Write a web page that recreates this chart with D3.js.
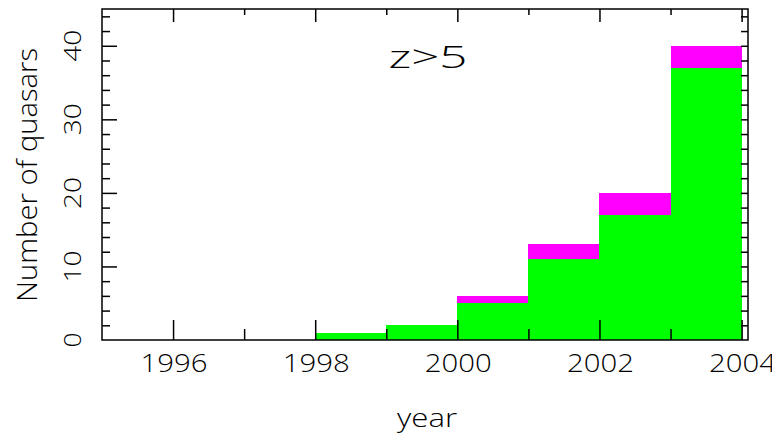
<!DOCTYPE html>
<html>
<head>
<meta charset="utf-8">
<script src="https://cdn.jsdelivr.net/npm/d3@7/dist/d3.min.js"></script>
<style>
  html, body { margin: 0; padding: 0; background: #fff; }
  svg { display: block; }
  text { font-family: "Open Sans", "Liberation Sans", Arial, sans-serif; font-weight: 300; fill: #000; }
</style>
</head>
<body>
<svg id="chart" width="772" height="434"></svg>
<script>
// Discovery year bins (start of each one-year bin)
const binStart = [1998, 1999, 2000, 2001, 2002, 2003];
// Quasars per year: lower (green) part and upper (magenta) part of each stack
const greenCounts = [1, 2, 5, 11, 17, 37];
const magentaCounts = [0, 0, 1, 2, 3, 3];

// Axis ticks
const xMajorTicks = [1996, 1998, 2000, 2002, 2004];
const xMinorTicks = [1997, 1999, 2001, 2003];
const yMajorTicks = [0, 10, 20, 30, 40];
const yMinorTicks = [2, 4, 6, 8, 12, 14, 16, 18, 22, 24, 26, 28, 32, 34, 36, 38, 42, 44];

const svg = d3.select("#chart");

const x = d3.scaleLinear().domain([1995, 2004.09]).range([102, 748]);
const y = d3.scaleLinear().domain([0, 45]).range([340, 9]);

// Stacked histogram bars
const bars = svg.append("g").attr("shape-rendering", "crispEdges");
bars.selectAll("rect.lower")
  .data(binStart)
  .join("rect")
  .attr("class", "lower")
  .attr("x", (d) => x(d))
  .attr("width", (d) => x(d + 1) - x(d) + 0.5)
  .attr("y", (d, i) => y(greenCounts[i]))
  .attr("height", (d, i) => y(0) - y(greenCounts[i]))
  .attr("fill", "#00ff00");

bars.selectAll("rect.upper")
  .data(binStart)
  .join("rect")
  .attr("class", "upper")
  .attr("x", (d) => x(d))
  .attr("width", (d) => x(d + 1) - x(d))
  .attr("y", (d, i) => y(greenCounts[i] + magentaCounts[i]))
  .attr("height", (d, i) => y(greenCounts[i]) - y(greenCounts[i] + magentaCounts[i]))
  .attr("fill", "#ff00ff");

// Tick marks, all pointing into the frame
function ticks(axis, transform) {
  const g = svg.append("g").attr("transform", transform).call(axis);
  g.select(".domain").remove();
  g.selectAll(".tick line").attr("stroke", "#000").attr("stroke-width", 1.5);
  g.selectAll(".tick text").remove();
  return g;
}
const y0 = y(0), yTop = y(45), xL = x.range()[0], xR = x.range()[1];

ticks(d3.axisBottom(x).tickValues(xMajorTicks).tickSize(-20), `translate(0,${y0})`);
ticks(d3.axisBottom(x).tickValues(xMinorTicks).tickSize(-11), `translate(0,${y0})`);
ticks(d3.axisTop(x).tickValues(xMajorTicks).tickSize(-13), `translate(0,${yTop})`);
ticks(d3.axisTop(x).tickValues(xMinorTicks).tickSize(-6), `translate(0,${yTop})`);
ticks(d3.axisLeft(y).tickValues(yMajorTicks.filter(v => v > 0)).tickSize(-15), `translate(${xL},0)`);
ticks(d3.axisLeft(y).tickValues(yMinorTicks).tickSize(-8), `translate(${xL},0)`);
ticks(d3.axisRight(y).tickValues(yMajorTicks.concat(yMinorTicks).filter(v => v > 0)).tickSize(-7), `translate(${xR},0)`);

// Frame
svg.append("rect")
  .attr("x", xL).attr("y", yTop)
  .attr("width", xR - xL).attr("height", y0 - yTop)
  .attr("fill", "none").attr("stroke", "#000").attr("stroke-width", 1.5);

// X tick labels
svg.append("g").selectAll("text")
  .data(xMajorTicks)
  .join("text")
  .attr("x", (d) => x(d) + 1)
  .attr("y", 372)
  .attr("text-anchor", "middle")
  .attr("font-size", 25)
  .attr("textLength", 67)
  .attr("lengthAdjust", "spacingAndGlyphs")
  .text((d) => d);

// Y tick labels (rotated)
svg.append("g").selectAll("text")
  .data(yMajorTicks)
  .join("text")
  .attr("transform", (d) => `translate(81,${y(d)}) rotate(-90)`)
  .attr("text-anchor", "middle")
  .attr("font-size", 24)
  .attr("textLength", (d) => String(d).length === 1 ? 15 : 32)
  .attr("lengthAdjust", "spacingAndGlyphs")
  .text((d) => d);

// Axis titles
svg.append("text")
  .attr("transform", `translate(37,175) rotate(-90)`)
  .attr("text-anchor", "middle")
  .attr("font-size", 27)
  .attr("textLength", 254)
  .attr("lengthAdjust", "spacingAndGlyphs")
  .text("Number of quasars");

svg.append("text")
  .attr("x", 427).attr("y", 427)
  .attr("text-anchor", "middle")
  .attr("font-size", 26)
  .attr("textLength", 60)
  .attr("lengthAdjust", "spacingAndGlyphs")
  .text("year");

// Redshift cut annotation
svg.append("text")
  .attr("x", 428).attr("y", 68)
  .attr("text-anchor", "middle")
  .attr("font-size", 31)
  .attr("textLength", 79)
  .attr("lengthAdjust", "spacingAndGlyphs")
  .text("z>5");
</script>
</body>
</html>
